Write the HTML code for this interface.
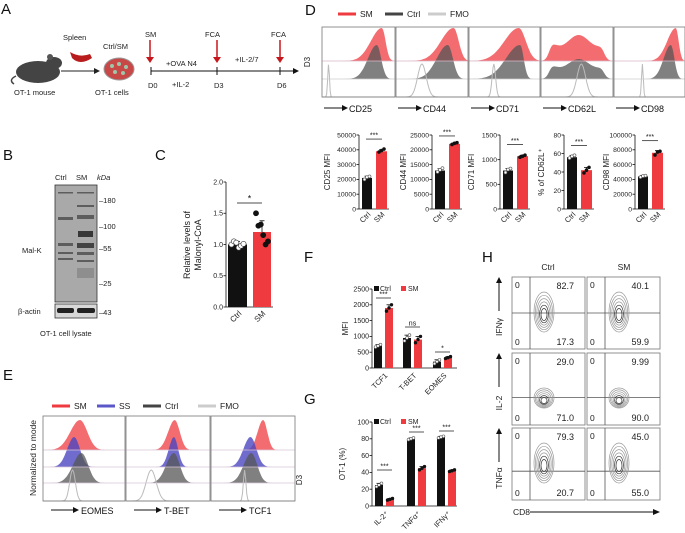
<!DOCTYPE html>
<html><head><meta charset="utf-8">
<style>
html,body{margin:0;padding:0;background:#fff;}
svg{display:block;font-family:"Liberation Sans",Arial,sans-serif;}
</style></head>
<body>
<svg id="fig" width="685" height="533" viewBox="0 0 685 533" xmlns="http://www.w3.org/2000/svg">
<rect x="0" y="0" width="685" height="533" fill="#fff"/>
<g font-size="15" fill="#111">
<text x="1" y="14">A</text><text x="305" y="15">D</text><text x="3" y="160">B</text><text x="155" y="160">C</text>
<text x="3" y="380">E</text><text x="304" y="262">F</text><text x="304" y="404">G</text><text x="482" y="262">H</text>
</g>

<g font-size="7.5" fill="#222">
<g>
<ellipse cx="38" cy="72" rx="22" ry="11" fill="#444"/>
<ellipse cx="54" cy="63" rx="8" ry="6" fill="#444"/>
<circle cx="50" cy="57" r="3" fill="#555"/>
<path d="M16 76 Q8 80 14 84" stroke="#444" stroke-width="1.5" fill="none"/>
</g>
<text x="14" y="95">OT-1 mouse</text>
<line x1="61" y1="71" x2="94" y2="71" stroke="#222" stroke-width="1"/>
<polygon points="94,68 100,71 94,74" fill="#222"/>
<path d="M70 52 Q80 58 90 54 L92 58 Q80 66 72 58 Z" fill="#b81c1c"/>
<text x="63" y="40">Spleen</text>
<text x="103" y="49">Ctrl/SM</text>
<ellipse cx="119" cy="69" rx="15" ry="11" fill="#c84848" stroke="#999"/>
<g fill="#9cc7a8"><circle cx="112" cy="66" r="2"/><circle cx="119" cy="64" r="2"/><circle cx="126" cy="67" r="2"/><circle cx="115" cy="72" r="2"/><circle cx="123" cy="73" r="2"/></g>
<text x="95" y="95">OT-1 cells</text>
<line x1="151" y1="71" x2="293" y2="71" stroke="#111" stroke-width="1"/>
<polygon points="293,68 299,71 293,74" fill="#111"/>
<g stroke="#111"><line x1="151" y1="67" x2="151" y2="75"/><line x1="217" y1="67" x2="217" y2="75"/><line x1="280" y1="67" x2="280" y2="75"/></g>
<g stroke="#c8161d" stroke-width="1.5"><line x1="150" y1="40" x2="150" y2="58"/><line x1="217" y1="40" x2="217" y2="58"/><line x1="280" y1="40" x2="280" y2="58"/></g>
<g fill="#c8161d"><polygon points="146,57 154,57 150,63"/><polygon points="213,57 221,57 217,63"/><polygon points="276,57 284,57 280,63"/></g>
<text x="145" y="37">SM</text><text x="205" y="37">FCA</text><text x="271" y="37">FCA</text>
<text x="166" y="66">+OVA N4</text><text x="235" y="62">+IL-2/7</text>
<text x="148" y="88">D0</text><text x="172" y="87">+IL-2</text><text x="214" y="88">D3</text><text x="277" y="88">D6</text>
</g>

<g font-size="7.5" fill="#222">
<text x="55" y="180">Ctrl</text><text x="76" y="180">SM</text><text x="97" y="180" font-style="italic">kDa</text>
<rect x="55" y="185" width="42" height="117" fill="#a9a9a9" stroke="#333" stroke-width="0.8"/>
<g fill="#444" opacity="0.75">
<rect x="58" y="217" width="15" height="3"/><rect x="77" y="215" width="17" height="4"/>
<rect x="77" y="205" width="17" height="2"/><rect x="78" y="231" width="15" height="6" fill="#111"/>
<rect x="58" y="243" width="15" height="3"/><rect x="77" y="243" width="17" height="5" fill="#222"/>
<rect x="58" y="252" width="15" height="2"/><rect x="77" y="252" width="17" height="3"/>
<rect x="58" y="258" width="15" height="2"/><rect x="77" y="260" width="17" height="2"/>
<rect x="58" y="192" width="15" height="1.5"/><rect x="77" y="192" width="17" height="1.5"/>
<rect x="77" y="268" width="17" height="10" opacity="0.35"/>
</g>
<rect x="55" y="304" width="42" height="14" fill="#d8d8d8" stroke="#333" stroke-width="0.8"/>
<rect x="57" y="308" width="17" height="5" rx="2" fill="#222"/><rect x="77" y="308" width="18" height="5" rx="2" fill="#222"/>
<text x="99" y="203">–180</text><text x="99" y="229">–100</text><text x="99" y="251">–55</text><text x="99" y="286">–25</text><text x="99" y="315">–43</text>
<text x="22" y="253">Mal-K</text><text x="18" y="314">β-actin</text>
<text x="40" y="336">OT-1 cell lysate</text>
</g>

<g id="panelC"></g>
<g id="panelD"></g>
<g id="panelE"></g>
<g id="panelF"></g>
<g id="panelG"></g>
<g id="panelH"></g>
</svg>
<script>
const twoCats = ["Ctrl", "SM"];
const cMeans = [1.0, 1.2];
const cErr = [0.05, 0.18];
const cCtrlPts = [1.0, 1.05, 1.03, 0.95, 0.98, 1.01];
const cSmPts = [1.5, 1.3, 1.32, 1.15, 1.0, 1.05];
const cTicks = [0, 0.5, 1.0, 1.5, 2.0];
const cTickLabels = ["0.0", "0.5", "1.0", "1.5", "2.0"];
const dNames = ["CD25", "CD44", "CD71", "CD62L", "CD98"];
const dLabels = ["CD25 MFI", "CD44 MFI", "CD71 MFI", "% of CD62L⁺", "CD98 MFI"];
const dMax = [50000, 25000, 1500, 80, 100000];
const dCtrl = [21000, 13000, 780, 56, 44000];
const dSM = [39000, 22000, 1070, 42, 76000];
const dCtrlErr = [1200, 600, 40, 2, 1500];
const dSMErr = [1000, 300, 20, 3, 3000];
const dCtrlPts = [[20000, 21500, 22000], [12500, 13200, 13800], [740, 800, 820], [55, 57, 58], [43000, 44500, 45000]];
const dSMPts = [[38500, 39500, 40500], [21800, 22200, 22400], [1050, 1070, 1090], [39, 42, 45], [73000, 77000, 78000]];
const dTicks = [[0, 10000, 20000, 30000, 40000, 50000], [0, 5000, 10000, 15000, 20000, 25000], [0, 500, 1000, 1500], [0, 20, 40, 60, 80], [0, 20000, 40000, 60000, 80000, 100000]];
const fCats = ["TCF1", "T-BET", "EOMES"];
const fCtrl = [700, 950, 200];
const fSM = [1900, 900, 330];
const fCtrlErr = [40, 90, 60];
const fSMErr = [100, 100, 30];
const fSig = ["***", "ns", "*"];
const fTicks = [0, 500, 1000, 1500, 2000, 2500];
const gCats = ["IL-2⁺", "TNFα⁺", "IFNγ⁺"];
const gCtrl = [25, 80, 82];
const gSM = [8, 45, 42];
const gCtrlErr = [2, 1, 1];
const gSMErr = [1, 2, 1];
const gSig = ["***", "***", "***"];
const gTicks = [0, 20, 40, 60, 80, 100];
const hRows = ["IFNγ", "IL-2", "TNFα"];
const hTopVals = [["82.7", "40.1"], ["29.0", "9.99"], ["79.3", "45.0"]];
const hBotVals = [["17.3", "59.9"], ["71.0", "90.0"], ["20.7", "55.0"]];

const NS = "http://www.w3.org/2000/svg";
function mk(tag, attrs, parent) {
  const e = document.createElementNS(NS, tag);
  for (const k in attrs) e.setAttribute(k, attrs[k]);
  parent.appendChild(e);
  return e;
}
function txt(s, attrs, parent) { const t = mk("text", attrs, parent); t.textContent = s; return t; }
const RED = "#ef3b3f";
function yScale(v, max, yTop, yBot) { return yBot - (v / max) * (yBot - yTop); }
function axisY(g, x, yTop, yBot, max, ticks, labels, fs) {
  mk("line", {x1: x, y1: yTop, x2: x, y2: yBot, stroke: "#111", "stroke-width": 0.8}, g);
  ticks.forEach((t, i) => {
    const y = yScale(t, max, yTop, yBot);
    mk("line", {x1: x - 2.5, y1: y, x2: x, y2: y, stroke: "#111", "stroke-width": 0.8}, g);
    const lab = txt(labels ? labels[i] : String(t), {x: x - 3, y: y + 2.3, "font-size": fs, "text-anchor": "end", fill: "#222"}, g);
    
    
  });
}
function bar(g, x, w, v, err, max, yTop, yBot, color, name) {
  const y = yScale(v, max, yTop, yBot);
  const r = mk("rect", {x: x, y: y, width: w, height: yBot - y, fill: color}, g);
  
  
  const ye = yScale(v + err, max, yTop, yBot);
  mk("line", {x1: x + w / 2, y1: y, x2: x + w / 2, y2: ye, stroke: "#111", "stroke-width": 0.8}, g);
  mk("line", {x1: x + w / 2 - 2.5, y1: ye, x2: x + w / 2 + 2.5, y2: ye, stroke: "#111", "stroke-width": 0.8}, g);
}
function dots(g, cx, spread, pts, max, yTop, yBot, fill, stroke, r) {
  pts.forEach((p, i) => {
    const off = pts.length > 1 ? (i / (pts.length - 1) - 0.5) * spread : 0;
    const d = mk("circle", {cx: cx + off, cy: yScale(p, max, yTop, yBot), r: r, fill: fill, stroke: stroke, "stroke-width": 0.6}, g);
    
    
  });
}
function rotLabel(g, s, x, y, fs, ang) {
  const t = txt(s, {x: x, y: y, "font-size": fs, "text-anchor": "end", fill: "#222", transform: `rotate(${ang} ${x} ${y})`}, g);
  
  
}
function sig(g, x1, x2, y, s, fs) {
  mk("line", {x1: x1, y1: y, x2: x2, y2: y, stroke: "#111", "stroke-width": 0.7}, g);
  const t = txt(s, {x: (x1 + x2) / 2, y: y - 1.5, "font-size": fs, "text-anchor": "middle", fill: "#111"}, g);
  
  
}

(function () {
  const g = document.getElementById("panelC");
  const ax = 226, yT = 182, yB = 307, mx = 2.0;
  axisY(g, ax, yT, yB, mx, cTicks, cTickLabels, 7);
  mk("line", {x1: ax, y1: yB, x2: 273, y2: yB, stroke: "#111", "stroke-width": 0.8}, g);
  bar(g, 228, 19, cMeans[0], cErr[0], mx, yT, yB, "#111", "bar-ctrl");
  bar(g, 253, 18, cMeans[1], cErr[1], mx, yT, yB, RED, "bar-sm");
  dots(g, 237.5, 12, cCtrlPts, mx, yT, yB, "#fff", "#333", 2.6);
  dots(g, 262, 12, cSmPts, mx, yT, yB, "#111", "#111", 2.6);
  sig(g, 237, 262, 203, "*", 9);
  rotLabel(g, twoCats[0], 242, 314, 8, -45);
  rotLabel(g, twoCats[1], 266, 314, 8, -45);
  const yl = txt("Relative levels of", {x: 190, y: 245, "font-size": 9, "text-anchor": "middle", transform: "rotate(-90 190 245)", fill: "#222"}, g);
  
  const yl2 = txt("Malonyl-CoA", {x: 201, y: 245, "font-size": 9, "text-anchor": "middle", transform: "rotate(-90 201 245)", fill: "#222"}, g);
  
})();

function hist(g, x0, x1, base, h, c, s, skew, fill, stroke, op, name) {
  let d = `M${x0} ${base}`;
  const n = 80;
  for (let i = 0; i <= n; i++) {
    const f = i / n;
    const z = (f - c) / (f < c ? s * skew : s);
    const v = Math.exp(-0.5 * z * z);
    d += ` L${(x0 + f * (x1 - x0)).toFixed(1)} ${(base - v * h).toFixed(1)}`;
  }
  d += ` L${x1} ${base} Z`;
  const p = mk("path", {d: d, fill: fill, stroke: stroke, "stroke-width": stroke === "none" ? 0 : 1, opacity: op}, g);
  
  
}
function plateau(g, x0, x1, base, h, a, b, fill, op, name) {
  let d = `M${x0} ${base}`;
  const n = 80;
  for (let i = 0; i <= n; i++) {
    const f = i / n;
    let v = 1 / (1 + Math.exp(-(f - a) * 40)) * 1 / (1 + Math.exp((f - b) * 40));
    v *= 0.8 + 0.2 * Math.cos(f * 12);
    d += ` L${(x0 + f * (x1 - x0)).toFixed(1)} ${(base - v * h).toFixed(1)}`;
  }
  d += ` L${x1} ${base} Z`;
  const p = mk("path", {d: d, fill: fill, opacity: op}, g);
  
  
}

(function () {
  const g = document.getElementById("panelD");
  const leg = [[338, RED, "SM"], [385, "#444", "Ctrl"], [428, "#ccc", "FMO"]];
  leg.forEach(l => {
    mk("line", {x1: l[0], y1: 14, x2: l[0] + 18, y2: 14, stroke: l[1], "stroke-width": 3}, g);
    const t = txt(l[2], {x: l[0] + 22, y: 17, "font-size": 8.5, fill: "#222"}, g);
    
    
  });
  txt("D3", {x: 310, y: 62, "font-size": 8, "text-anchor": "middle", transform: "rotate(-90 310 62)", fill: "#222"}, g);
  const boxes = [[322, 395], [396, 468], [469, 540], [541, 613], [614, 685]];
  const smP = [[0.82, 0.05, 3], [0.8, 0.07, 2.5], [0.7, 0.1, 2], null, [0.87, 0.04, 3]];
  const ctP = [[0.75, 0.06, 2], [0.72, 0.07, 2.2], [0.72, 0.05, 4], null, [0.8, 0.05, 2]];
  const fmP = [[0.09, 0.012, 1], [0.36, 0.06, 1], [0.35, 0.025, 1], [0.56, 0.06, 1], [0.4, 0.012, 1]];
  boxes.forEach((b, i) => {
    const [x0, x1] = b;
    if (smP[i]) {
      hist(g, x0, x1, 61, 33, smP[i][0], smP[i][1], smP[i][2], RED, "none", 0.75, "histogram-sm");
      hist(g, x0, x1, 79, 34, ctP[i][0], ctP[i][1], ctP[i][2], "#555", "none", 0.75, "histogram-ctrl");
    } else {
      plateau(g, x0, x1, 61, 26, 0.12, 0.87, RED, 0.75, "histogram-sm");
      plateau(g, x0, x1, 79, 20, 0.12, 0.87, "#555", 0.75, "histogram-ctrl");
    }
    hist(g, x0, x1, 97, 33, fmP[i][0], fmP[i][1], 1, "none", "#bbb", 1, "histogram-fmo");
    mk("line", {x1: x0, y1: 61, x2: x1, y2: 61, stroke: "#d9b8c8", "stroke-width": 0.7}, g);
    mk("line", {x1: x0, y1: 79, x2: x1, y2: 79, stroke: "#ccc", "stroke-width": 0.7}, g);
    mk("rect", {x: x0, y: 27, width: x1 - x0, height: 70, fill: "none", stroke: "#777", "stroke-width": 0.8}, g);
    mk("line", {x1: x0 + 2, y1: 108, x2: x0 + 20, y2: 108, stroke: "#111", "stroke-width": 1}, g);
    mk("polygon", {points: `${x0 + 20},105 ${x0 + 26},108 ${x0 + 20},111`, fill: "#111"}, g);
    const t = txt(dNames[i], {x: x0 + 27, y: 112, "font-size": 9, fill: "#111"}, g);
    
    
  });
  const axX = [359, 432, 500, 564, 635];
  const yT = 135, yB = 209;
  dNames.forEach((n, i) => {
    const ax = axX[i], mx = dMax[i];
    const sub = mk("g", {}, g);
    
    
    axisY(sub, ax, yT, yB, mx, dTicks[i], null, 6.8);
    mk("line", {x1: ax, y1: yB, x2: ax + 30, y2: yB, stroke: "#111", "stroke-width": 0.8}, sub);
    bar(sub, ax + 3, 10, dCtrl[i], dCtrlErr[i], mx, yT, yB, "#111", "bar-ctrl");
    bar(sub, ax + 17, 11, dSM[i], dSMErr[i], mx, yT, yB, RED, "bar-sm");
    dots(sub, ax + 8, 5, dCtrlPts[i], mx, yT, yB, "#fff", "#555", 1.5);
    dots(sub, ax + 22.5, 5, dSMPts[i], mx, yT, yB, "#111", "#111", 1.5);
    const top = Math.max(dCtrl[i], dSM[i]);
    sig(sub, ax + 7, ax + 23, yScale(Math.min(top * 1.1 + mx * 0.06, mx * 0.96), mx, yT, yB) - 2, "***", 7);
    rotLabel(sub, twoCats[0], ax + 12, 215, 7.5, -45);
    rotLabel(sub, twoCats[1], ax + 26, 215, 7.5, -45);
    const lx = i === 0 ? ax - 29 : (i === 3 ? ax - 20 : ax - 26);
    const yl = txt(dLabels[i], {x: lx, y: 172, "font-size": 8, "text-anchor": "middle", transform: `rotate(-90 ${lx} 172)`, fill: "#222"}, sub);
    
    
  });
})();

(function () {
  const g = document.getElementById("panelE");
  const leg = [[52, RED, "SM"], [97, "#5b57c9", "SS"], [143, "#444", "Ctrl"], [198, "#ccc", "FMO"]];
  leg.forEach(l => {
    mk("line", {x1: l[0], y1: 406, x2: l[0] + 18, y2: 406, stroke: l[1], "stroke-width": 3}, g);
    const t = txt(l[2], {x: l[0] + 22, y: 409, "font-size": 8.5, fill: "#222"}, g);
    
    
  });
  txt("Normalized to mode", {x: 36, y: 458, "font-size": 8.5, "text-anchor": "middle", transform: "rotate(-90 36 458)", fill: "#222"}, g);
  txt("D3", {x: 302, y: 480, "font-size": 8, "text-anchor": "middle", transform: "rotate(-90 302 480)", fill: "#222"}, g);
  const boxes = [[43, 125], [126, 210], [211, 295]];
  const names = ["EOMES", "T-BET", "TCF1"];
  const smP = [[0.45, 0.09], [0.58, 0.06], [0.62, 0.05]];
  const ssP = [[0.38, 0.07], [0.57, 0.05], [0.47, 0.07]];
  const ctP = [[0.47, 0.08], [0.57, 0.07], [0.48, 0.07]];
  const fmP = [[0.36, 0.035], [0.3, 0.06], [0.4, 0.015]];
  boxes.forEach((b, i) => {
    const [x0, x1] = b;
    hist(g, x0, x1, 450, 30, smP[i][0], smP[i][1], 1.3, RED, "none", 0.75, "histogram-sm");
    hist(g, x0, x1, 467, 30, ssP[i][0], ssP[i][1], 1.2, "#4b47c0", "none", 0.8, "histogram-ss");
    hist(g, x0, x1, 483, 30, ctP[i][0], ctP[i][1], 1.3, "#555", "none", 0.75, "histogram-ctrl");
    hist(g, x0, x1, 501, 31, fmP[i][0], fmP[i][1], 1, "none", "#bbb", 1, "histogram-fmo");
    [450, 467, 483].forEach(y => mk("line", {x1: x0, y1: y, x2: x1, y2: y, stroke: "#d8c6d6", "stroke-width": 0.7}, g));
    mk("rect", {x: x0, y: 416, width: x1 - x0, height: 85, fill: "none", stroke: "#777", "stroke-width": 0.8}, g);
    mk("line", {x1: x0 + 8, y1: 510, x2: x0 + 30, y2: 510, stroke: "#111", "stroke-width": 1}, g);
    mk("polygon", {points: `${x0 + 30},507 ${x0 + 36},510 ${x0 + 30},513`, fill: "#111"}, g);
    const t = txt(names[i], {x: x0 + 38, y: 514, "font-size": 9, fill: "#111"}, g);
    
    
  });
})();

function grouped(g, cats, ctrl, sm, ce, se, sigs, ticks, mx, yT, yB, bx, sigY, ylab, ylx) {
  const ax = 372;
  axisY(g, ax, yT, yB, mx, ticks, null, 7);
  mk("line", {x1: ax, y1: yB, x2: 457, y2: yB, stroke: "#111", "stroke-width": 0.8}, g);
  cats.forEach((c, i) => {
    const x = bx[i];
    bar(g, x, 8, ctrl[i], ce[i], mx, yT, yB, "#111", "bar-ctrl-" + i);
    bar(g, x + 11, 8, sm[i], se[i], mx, yT, yB, RED, "bar-sm-" + i);
    dots(g, x + 4, 5, [ctrl[i] - ce[i], ctrl[i], ctrl[i] + ce[i]], mx, yT, yB, "#fff", "#555", 1.4);
    dots(g, x + 15, 5, [sm[i] - se[i], sm[i], sm[i] + se[i]], mx, yT, yB, "#111", "#111", 1.4);
    sig(g, x + 2, x + 17, sigY[i], sigs[i], 7);
    rotLabel(g, c, x + 14, yB + 8, 7.5, -45);
  });
  const legY = yT + 1;
  mk("rect", {x: 374, y: legY - 4, width: 5, height: 5, fill: "#111"}, g);
  txt("Ctrl", {x: 380, y: legY + 1, "font-size": 7, fill: "#222"}, g);
  mk("rect", {x: 401, y: legY - 4, width: 5, height: 5, fill: RED}, g);
  txt("SM", {x: 408, y: legY + 1, "font-size": 7, fill: "#222"}, g);
  const t = txt(ylab, {x: ylx, y: (yT + yB) / 2, "font-size": 8, "text-anchor": "middle", transform: `rotate(-90 ${ylx} ${(yT + yB) / 2})`, fill: "#222"}, g);
  
  
}
grouped(document.getElementById("panelF"), fCats, fCtrl, fSM, fCtrlErr, fSMErr, fSig, fTicks, 2500, 289, 368, [374, 403, 433], [298, 327, 352], "MFI", 348);
grouped(document.getElementById("panelG"), gCats, gCtrl, gSM, gCtrlErr, gSMErr, gSig, gTicks, 100, 422, 506, [375, 407, 437], [470, 432, 431], "OT-1 (%)", 345);

(function () {
  const g = document.getElementById("panelH");
  txt("Ctrl", {x: 548, y: 270, "font-size": 8.5, "text-anchor": "middle", fill: "#222"}, g);
  txt("SM", {x: 624, y: 270, "font-size": 8.5, "text-anchor": "middle", fill: "#222"}, g);
  const cols = [512, 587], rows = [277, 353, 428], W = 73, H = 72;
  const hLine = [0.5, 0.62, 0.6];
  rows.forEach((ry, r) => {
    const lx = 502, cy = ry + H / 2;
    const lab = txt(hRows[r], {x: lx, y: cy + 14, "font-size": 8.5, "text-anchor": "middle", transform: `rotate(-90 ${lx} ${cy + 14})`, fill: "#222"}, g);
    
    
    mk("line", {x1: lx - 3, y1: cy - 2, x2: lx - 3, y2: ry + 5, stroke: "#111", "stroke-width": 1}, g);
    mk("polygon", {points: `${lx - 6},${ry + 6} ${lx - 3},${ry} ${lx},${ry + 6}`, fill: "#111"}, g);
    cols.forEach((cx0, c) => {
      const box = mk("rect", {x: cx0, y: ry, width: W, height: H, fill: "#fff", stroke: "#777", "stroke-width": 0.8}, g);
      
      
      const hy = ry + H * hLine[r];
      mk("line", {x1: cx0 + 18, y1: ry, x2: cx0 + 18, y2: ry + H, stroke: "#555", "stroke-width": 0.8}, g);
      mk("line", {x1: cx0, y1: hy, x2: cx0 + W, y2: hy, stroke: "#555", "stroke-width": 0.8}, g);
      const bx = cx0 + 32, by = r === 1 ? ry + 45 : ry + 35;
      const ryy = r === 1 ? 10 : 20, rxx = 10;
      for (let k = 0; k < 6; k++) {
        mk("ellipse", {cx: bx, cy: by + k * 0.5, rx: rxx * (1 - k * 0.14), ry: ryy * (1 - k * 0.14), fill: "none", stroke: k > 3 ? "#333" : "#999", "stroke-width": 0.7}, g);
      }
      txt("0", {x: cx0 + 3, y: ry + 11, "font-size": 8.5, fill: "#222"}, g);
      txt("0", {x: cx0 + 3, y: ry + H - 4, "font-size": 8.5, fill: "#222"}, g);
      const tv = txt(hTopVals[r][c], {x: cx0 + 62, y: ry + 12, "font-size": 9, "text-anchor": "end", fill: "#222"}, g);
      
      
      const bv = txt(hBotVals[r][c], {x: cx0 + 62, y: ry + H - 4, "font-size": 9, "text-anchor": "end", fill: "#222"}, g);
      
      
    });
  });
  txt("CD8", {x: 513, y: 515, "font-size": 8.5, fill: "#222"}, g);
  mk("line", {x1: 530, y1: 512, x2: 653, y2: 512, stroke: "#111", "stroke-width": 1}, g);
  mk("polygon", {points: "653,509 660,512 653,515", fill: "#111"}, g);
})();
</script>
</body></html>
